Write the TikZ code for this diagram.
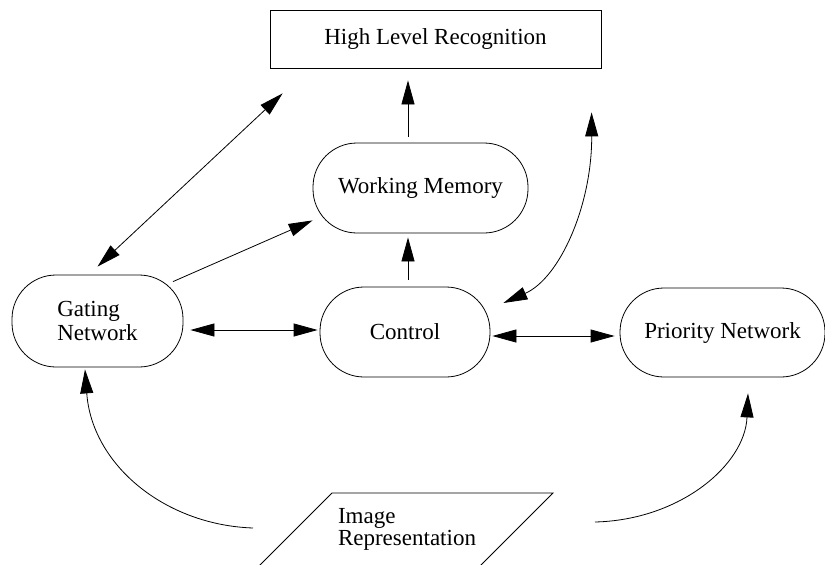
\documentclass[tikz,border=0pt]{standalone}
\usepackage{fontspec}
\setmainfont{Liberation Serif}
\usetikzlibrary{arrows.meta}
\begin{document}
\begin{tikzpicture}[x=1pt,y=-1pt,
  box/.style={draw, line width=0.8pt, inner sep=0pt, font=\fontsize{23}{26}\selectfont},
  pill/.style={box, rounded corners=44pt},
  conn/.style={line width=0.8pt, -{Triangle[length=24pt,width=13pt]}},
  dconn/.style={line width=0.8pt, {Triangle[length=24pt,width=13pt]}-{Triangle[length=24pt,width=13pt]}},
  lbl/.style={font=\fontsize{23}{22}\selectfont, align=left, inner sep=0pt}
]
\useasboundingbox (0,0) rectangle (825,565);
\node[box, minimum width=331pt, minimum height=58pt] (hlr) at (435.5,39) {High Level Recognition};
\node[pill, minimum width=215pt, minimum height=90pt] (wm) at (420.5,188) {Working Memory};
\node[pill, minimum width=171pt, minimum height=92pt, align=left] (gate) at (97.5,321) {Gating\\[-2pt]Network};
\node[pill, minimum width=170pt, minimum height=90pt] (ctrl) at (405,332) {Control};
\node[pill, minimum width=205pt, minimum height=89pt] (prio) at (722.5,332.5) {Priority Network};
% image representation parallelogram
\draw[line width=0.8pt] (332,493) coordinate (imgtl) -- (553,493) coordinate (imgtr) -- (463,583) -- (242,583) -- cycle;
\node[lbl] (img) at (407,529) {Image\\Representation};
\coordinate (imgL) at (253,528);
\coordinate (imgR) at (595,522);
% connectors
\draw[dconn] ([yshift=8pt]gate.north) -- ([xshift=13pt,yshift=-25pt]hlr.south west);
\draw[conn] ([xshift=75.5pt,yshift=-7pt]gate.north) -- ([yshift=13pt]wm.south west);
\draw[conn] ([xshift=-12.5pt,yshift=6pt]wm.north) -- ([xshift=-27.5pt,yshift=-12pt]hlr.south);
\draw[conn] ([xshift=3pt,yshift=7pt]ctrl.north) -- ([xshift=-12.5pt,yshift=-4pt]wm.south);
\draw[dconn] ([xshift=7pt,yshift=-9pt]gate.east) -- ([xshift=-2pt,yshift=2pt]ctrl.west);
\draw[dconn] ([xshift=2pt,yshift=-4pt]ctrl.east) -- ([xshift=-5pt,yshift=-3.5pt]prio.west);
\draw[dconn] ([xshift=13pt,yshift=29pt]ctrl.east) .. controls (560,278) and (592,205) .. ([xshift=322pt,yshift=-44pt]hlr.south west);
\draw[conn] (imgL) .. controls (165,525) and (92,465) .. ([xshift=-12.5pt,yshift=-2pt]gate.south);
\draw[conn] (imgR) .. controls (680,520) and (745,465) .. ([xshift=25.5pt,yshift=-16pt]prio.south);
\end{tikzpicture}
\end{document}
